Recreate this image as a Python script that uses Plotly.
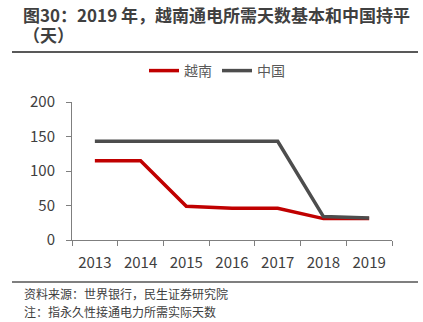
import plotly.graph_objects as go

years = ["2013", "2014", "2015", "2016", "2017", "2018", "2019"]
vietnam = [115, 115, 49, 46, 46, 31, 31]
china = [143, 143, 143, 143, 143, 34, 32]
y_ticks = [0, 50, 100, 150, 200]

title_line1 = "图30：2019 年，越南通电所需天数基本和中国持平"
title_line2 = "（天）"
source = "资料来源：世界银行，民生证券研究院"
note = "注：指永久性接通电力所需实际天数"

FONT = "Noto Sans CJK SC"
PW, PH = 320, 138

fig = go.Figure()
fig.add_trace(go.Scatter(x=years, y=vietnam, name="越南", mode="lines",
                         line=dict(color="#C00000", width=3.5)))
fig.add_trace(go.Scatter(x=years, y=china, name="中国", mode="lines",
                         line=dict(color="#4D4D4D", width=3.5)))

fig.update_layout(
    width=423, height=322,
    margin=dict(l=72, r=31, t=102, b=82),
    paper_bgcolor="white", plot_bgcolor="white",
    font=dict(family=FONT, color="#595959", size=13),
    showlegend=True,
    legend=dict(orientation="h", x=(217 - 72) / PW, xanchor="center",
                y=1 + 31 / PH, yanchor="middle",
                font=dict(size=14, color="#595959"), itemwidth=30,
                bgcolor="rgba(0,0,0,0)"),
    xaxis=dict(type="category", range=[-0.5, 6.5], showline=True,
               linecolor="#7F7F7F", linewidth=1,
               ticks="outside", tickson="boundaries", ticklen=5, tickcolor="#7F7F7F",
               showgrid=False, ticklabelstandoff=9,
               tickfont=dict(size=15, color="#404040")),
    yaxis=dict(range=[0, 200], tickvals=y_ticks, showline=True, linecolor="#7F7F7F",
               linewidth=1, ticks="outside", ticklen=5, tickcolor="#7F7F7F",
               showgrid=False, zeroline=False, ticklabelstandoff=8,
               tickfont=dict(size=15, color="#404040")),
)

title_html = ('<b><span style="font-size:17px">' + title_line1 + '</span><br>'
              '<span style="font-size:17px">' + title_line2 + '</span></b>')
fig.add_annotation(text=title_html, xref="paper", yref="paper",
                   x=-51 / PW, y=1 + 78 / PH, xanchor="left", yanchor="middle",
                   align="left", showarrow=False,
                   font=dict(size=15, color="#404040", family=FONT))
fig.add_annotation(text=source, xref="paper", yref="paper",
                   x=-50 / PW, y=-53 / PH, xanchor="left", yanchor="middle",
                   showarrow=False, font=dict(size=12, color="#404040", family=FONT))
fig.add_annotation(text=note, xref="paper", yref="paper",
                   x=-50 / PW, y=-71 / PH, xanchor="left", yanchor="middle",
                   showarrow=False, font=dict(size=12, color="#404040", family=FONT))

fig.add_shape(type="line", xref="paper", yref="paper",
              x0=-60 / PW, x1=346 / PW, y0=1 + 50 / PH, y1=1 + 50 / PH,
              line=dict(color="#595959", width=2))
fig.add_shape(type="line", xref="paper", yref="paper",
              x0=-60 / PW, x1=346 / PW, y0=-42 / PH, y1=-42 / PH,
              line=dict(color="#7F7F7F", width=2))

fig.write_html("out.html")
